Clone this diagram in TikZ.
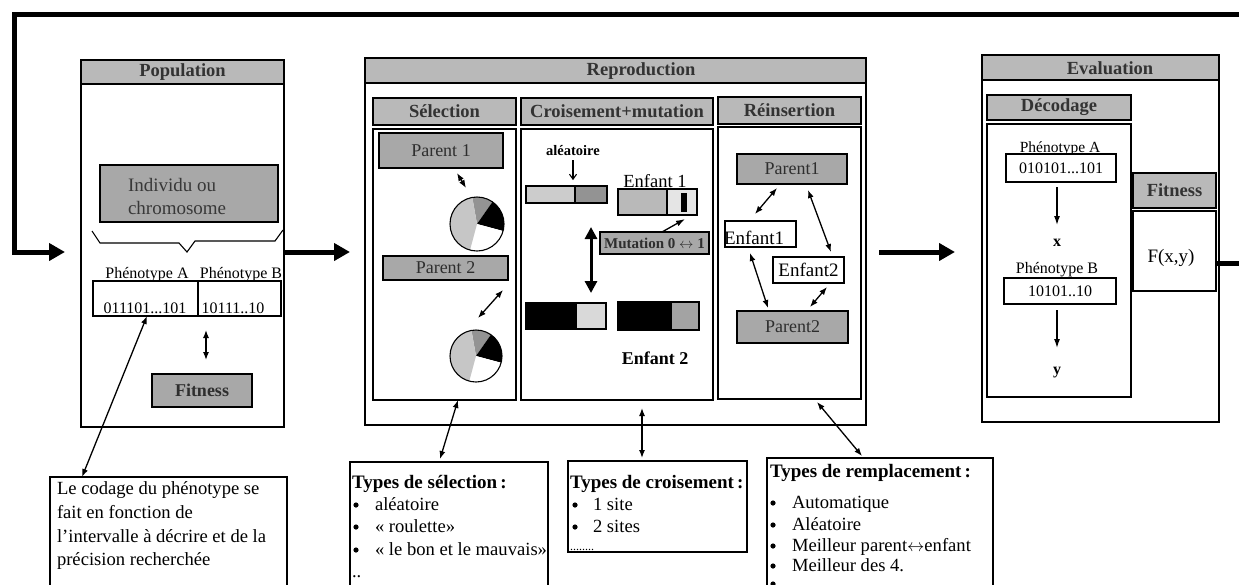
\documentclass[tikz,border=0pt]{standalone}
\usepackage{fontspec}
\setmainfont{Liberation Serif}
\usetikzlibrary{arrows.meta,calc}
\newcommand\fsz[1]{\fontsize{#1}{#1}\selectfont}
\begin{document}
\begin{tikzpicture}[x=1pt,y=-1pt,
  every node/.style={inner sep=0pt, outer sep=0pt},
  rbox/.style={draw, line width=1.3pt, anchor=north west, inner sep=0pt},
  hdr/.style={rbox, fill=gray!55, text=black!80, font=\bfseries\fsz{18.5}},
  dbox/.style={rbox, fill=gray!68, text=black!82, font=\fsz{18}},
  wbox/.style={rbox, fill=white},
  dbl/.style={line width=1.3pt, {Latex[length=8pt,width=6pt]}-{Latex[length=8pt,width=6pt]}},
  sgl/.style={line width=1.3pt, -{Latex[length=9pt,width=6pt]}},
  big/.style={line width=5pt, -{Triangle[length=16pt,width=17pt]}},
  txt/.style={anchor=base west},
  bullet/.style={fill=black}]
\useasboundingbox (0,0) rectangle (1239,584);
\clip (0,0) rectangle (1239,584);
\coordinate (fb) at (0,252);

% ---------------- Population
\node[rbox, minimum width=203pt, minimum height=367pt] (popB) at (81,60) {};
\node[hdr, minimum width=203pt, minimum height=24pt] (popH) at (81,60) {Population};
\node[dbox, minimum width=178pt, minimum height=57pt] (indiv) at (100,165) {};
\node[align=left, font=\fontsize{19}{23}\selectfont, text=black!78, anchor=west] (indivT) at (128,196) {Individu ou\\chromosome};
\draw[line width=1.1pt] (92,231) -- (100,243) -- (179,243) -- (187,252) -- (195,241) -- (275,241) -- (283,230);
\node[font=\fsz{16}, anchor=base] (phA) at (147,278) {Phénotype A};
\node[font=\fsz{16}, anchor=base] (phB) at (241,278) {Phénotype B};
\node[rbox, minimum width=105pt, minimum height=35pt] (tabA) at (93,281) {};
\node[rbox, minimum width=83pt, minimum height=35pt] (tabB) at (198,281) {};
\node[font=\fsz{16}, anchor=base] (codA) at (145,313) {011101...101};
\node[font=\fsz{16}, anchor=base] (codB) at (233,313) {10111..10};
\node[dbox, minimum width=100pt, minimum height=33pt, font=\bfseries\fsz{18}] (fitP) at (152,374) {Fitness};
\draw[dbl] ($(tabB.south west)+(8,14)$) -- ($(fitP.north west)+(54,-14)$);
\node[rbox, minimum width=237pt, minimum height=150pt] (codBox) at (50,477) {};
\draw[dbl] ($(tabA.south west)+(54,0)$) -- ($(codBox.north west)+(32,0)$);
\node[txt, font=\fsz{18.6}] (c1) at (57,494) {Le codage du phénotype se};
\node[txt, font=\fsz{18.6}] (c2) at (57,518) {fait en fonction de};
\node[txt, font=\fsz{18.6}] (c3) at (57,542) {l’intervalle à décrire et de la};
\node[txt, font=\fsz{18.6}] (c4) at (57,565) {précision recherchée};

% ---------------- Reproduction
\node[rbox, minimum width=501pt, minimum height=367pt] (repB) at (365,58) {};
\node[hdr, minimum width=501pt, minimum height=25pt] (repH) at (365,58) {};
\node[font=\bfseries\fsz{18.5}, text=black!80] (repT) at (641,71) {Reproduction};
% Selection
\node[hdr, minimum width=143pt, minimum height=27pt] (selH) at (373,98) {Sélection};
\node[rbox, minimum width=143pt, minimum height=271pt] (selB) at (373,129) {};
\node[dbox, minimum width=124pt, minimum height=35pt] (p1) at (379,133) {Parent 1};
\node[dbox, minimum width=125pt, minimum height=24pt] (p2) at (383,256) {Parent 2};
\coordinate (pieA) at (477,224);
\coordinate (pieB) at (476,356);
\foreach \c/\r in {pieA/27,pieB/26}{
  \fill[gray!85] (\c) -- ++(-100:\r) arc[start angle=-100,end angle=-55,radius=\r] -- cycle;
  \fill[black] (\c) -- ++(-55:\r) arc[start angle=-55,end angle=15,radius=\r] -- cycle;
  \fill[white] (\c) -- ++(15:\r) arc[start angle=15,end angle=105,radius=\r] -- cycle;
  \fill[gray!45] (\c) -- ++(105:\r) arc[start angle=105,end angle=260,radius=\r] -- cycle;
  \draw[line width=1.1pt] (\c) circle[radius=\r];
}
\draw[dbl] ($(p1.south west)+(78,5)$) -- ($(pieA)+(-11,-36)$);
\draw[dbl] ($(p2.south east)+(-5,10)$) -- ($(pieB)+(2,-38)$);
% Croisement
\node[hdr, minimum width=192pt, minimum height=27pt] (croH) at (521,98) {Croisement+mutation};
\node[rbox, minimum width=192pt, minimum height=271pt] (croB) at (521,129) {};
\node[font=\bfseries\fsz{14.5}, anchor=base] (alea) at (573,155) {aléatoire};
\draw[line width=1.1pt, -{Straight Barb[length=5pt,width=7pt]}] (alea.south) ++(0,5) -- ++(0,20);
\node[rbox, minimum width=49pt, minimum height=17pt, fill=gray!40] (b1a) at (526,186) {};
\node[rbox, minimum width=32pt, minimum height=17pt, fill=gray!85] (b1b) at (575,186) {};
\node[font=\fsz{18.5}, anchor=base] (enf1) at (655,187) {Enfant 1};
\node[rbox, minimum width=49pt, minimum height=26pt, fill=gray!55] (b2a) at (618,189) {};
\node[rbox, minimum width=30pt, minimum height=26pt, fill=gray!20] (b2b) at (667,189) {};
\node[rbox, minimum width=6pt, minimum height=19pt, fill=black, draw=none] (b2c) at (681,193) {};
\node[dbox, minimum width=109pt, minimum height=22pt, font=\bfseries\fsz{15}] (mut) at (600,232) {Mutation 0 $\leftrightarrow$ 1};
\draw[sgl] ($(mut.north west)+(62,0)$) -- ($(b2c.south)+(1,7)$);
\draw[line width=3pt, {Triangle[length=12pt,width=12pt]}-{Triangle[length=12pt,width=12pt]}] (591,227) -- (591,293);
\node[rbox, minimum width=50pt, minimum height=26pt, fill=black] (b3a) at (526,303) {};
\node[rbox, minimum width=30pt, minimum height=26pt, fill=gray!30] (b3b) at (576,303) {};
\node[rbox, minimum width=53pt, minimum height=28pt, fill=black] (b4a) at (618,302) {};
\node[rbox, minimum width=28pt, minimum height=28pt, fill=gray!72] (b4b) at (671,302) {};
\node[font=\bfseries\fsz{18}, anchor=base] (enf2) at (655,364) {Enfant 2};
% Reinsertion
\node[hdr, minimum width=143pt, minimum height=27pt] (reiH) at (718,97) {Réinsertion};
\node[rbox, minimum width=143pt, minimum height=272pt] (reiB) at (718,127) {};
\node[dbox, minimum width=110pt, minimum height=30pt] (rp1) at (737,154) {Parent1};
\node[wbox, minimum width=71pt, minimum height=26pt] (re1) at (725,221) {};
\node[font=\fsz{19}, anchor=base west] (re1t) at (724,244) {Enfant1};
\node[wbox, minimum width=71pt, minimum height=26pt, font=\fsz{19}] (re2) at (773,257) {Enfant2};
\node[dbox, minimum width=111pt, minimum height=32pt] (rp2) at (737,311) {Parent2};
\draw[dbl] ($(rp1.south west)+(40,4)$) -- ($(re1.north west)+(30,-7)$);
\draw[dbl] ($(rp1.south west)+(71,6)$) -- ($(re2.north west)+(58,-5)$);
\draw[dbl] ($(re1.south west)+(25,6)$) -- ($(rp2.north west)+(31,-3)$);
\draw[dbl] ($(re2.south west)+(54,4)$) -- ($(rp2.north west)+(73,-4)$);

% ---------------- Evaluation
\node[rbox, minimum width=237pt, minimum height=367pt] (evB) at (982,55) {};
\node[hdr, minimum width=237pt, minimum height=25pt] (evH) at (982,55) {};
\node[font=\bfseries\fsz{18.5}, text=black!80] (evT) at (1110,68) {Evaluation};
\node[hdr, minimum width=144pt, minimum height=25pt] (decH) at (987,95) {Décodage};
\node[rbox, minimum width=144pt, minimum height=273pt] (decB) at (987,124) {};
\node[font=\fsz{15.5}, anchor=base] (ephA) at (1060,152) {Phénotype A};
\node[wbox, minimum width=110pt, minimum height=28pt, font=\fsz{16}] (eA) at (1006,154) {010101...101};
\draw[sgl] ($(eA.south)+(-4,5)$) -- ++(0,38);
\node[font=\bfseries\fsz{16}] (ex) at (1057,243) {x};
\node[font=\fsz{16}, anchor=base] (ephB) at (1057,273) {Phénotype B};
\node[wbox, minimum width=112pt, minimum height=26pt, font=\fsz{16}] (eB) at (1004,278) {10101..10};
\draw[sgl] ($(eB.south)+(-3,6)$) -- ++(0,38);
\node[font=\bfseries\fsz{16}] (ey) at (1057,373) {y};
\node[hdr, minimum width=83pt, minimum height=35pt] (fitH) at (1133,173) {Fitness};
\node[rbox, minimum width=83pt, minimum height=80pt] (fitB) at (1133,211) {};
\node[font=\fsz{19}] (fxy) at (1171,258) {F(x,y)};

% ---------------- main flow
\draw[big, shorten >=16pt] (1250,14) -- (14,14) -- (14,252) -- (popB.west |- fb);
\draw[big, shorten >=15pt] (popB.east |- fb) -- (repB.west |- fb);
\draw[big, shorten <=13pt, shorten >=27pt] (repB.east |- fb) -- (evB.west |- fb);
\coordinate (outR) at (1250,263);
\draw[line width=5pt] (fitB.east |- outR) -- (outR);

% ---------------- bottom boxes
\node[rbox, minimum width=198pt, minimum height=150pt] (selT) at (350,462) {};
\node[rbox, minimum width=179pt, minimum height=91pt] (croT) at (568,461) {};
\node[rbox, minimum width=226pt, minimum height=150pt] (remT) at (767,458) {};
\draw[dbl] ($(selB.south west)+(85,0)$) -- ($(selT.north west)+(90,-3)$);
\draw[dbl] ($(croB.south west)+(121,8)$) -- ($(croT.north west)+(74,-3)$);
\draw[dbl] ($(reiB.south west)+(99,3)$) -- ($(remT.north west)+(95,-2)$);

\node[txt, font=\bfseries\fsz{19}] (s0) at (352,488) {Types de sélection\,:};
\node[txt, font=\fsz{18.6}] (s1) at (375,510) {aléatoire};
\node[txt, font=\fsz{18.6}] (s2) at (375,532) {« roulette»};
\node[txt, font=\fsz{18.6}] (s3) at (375,555) {« le bon et le mauvais»};
\node[txt, font=\fsz{18.6}] (s4) at (352,577) {..};
\foreach \y in {505,527,550} \fill[bullet] (356,\y) circle[radius=2.6];

\node[txt, font=\bfseries\fsz{19}] (k0) at (570,488) {Types de croisement\,:};
\node[txt, font=\fsz{18.6}] (k1) at (593,510) {1 site};
\node[txt, font=\fsz{18.6}] (k2) at (593,532) {2 sites};
\node[txt, font=\fsz{12}] (k3) at (570,550) {........};
\foreach \y in {505,527} \fill[bullet] (575,\y) circle[radius=2.6];

\node[txt, font=\bfseries\fsz{19}] (r0) at (770,477) {Types de remplacement\,:};
\node[txt, font=\fsz{18.6}] (r1) at (792,508) {Automatique};
\node[txt, font=\fsz{18.6}] (r2) at (792,530) {Aléatoire};
\node[txt, font=\fsz{18.6}] (r3) at (792,551) {Meilleur parent$\leftrightarrow$enfant};
\node[txt, font=\fsz{18.6}] (r4) at (792,571) {Meilleur des 4.};
\foreach \y in {503,525,546,566,584} \fill[bullet] (773,\y) circle[radius=2.6];
\end{tikzpicture}
\end{document}
